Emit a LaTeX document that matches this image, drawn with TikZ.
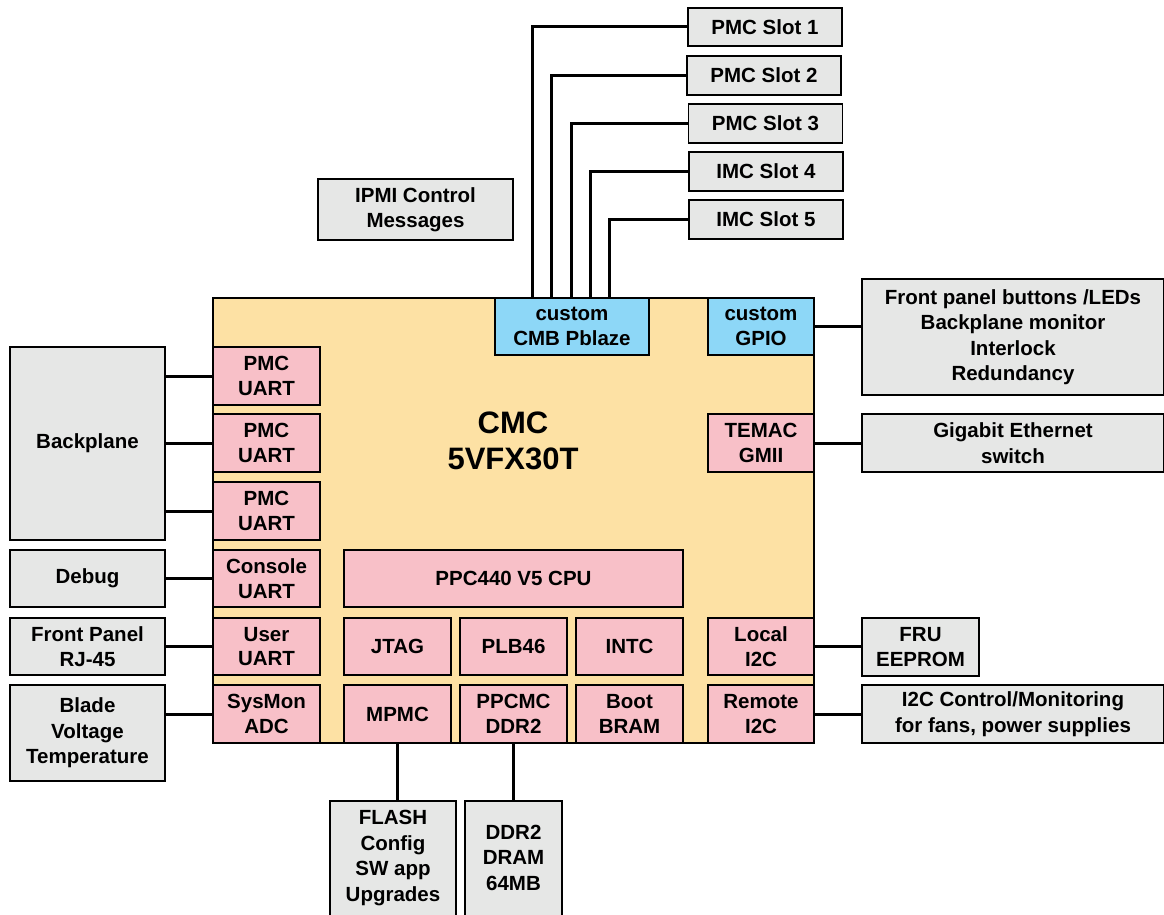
\documentclass[tikz,border=0pt]{standalone}
\usepackage{fontspec}
\setmainfont{Liberation Sans}
\definecolor{fpgafill}{HTML}{FDE1A4}
\definecolor{pinkfill}{HTML}{F8C0C8}
\definecolor{bluefill}{HTML}{8DD7F7}
\definecolor{grayfill}{HTML}{E6E7E6}
\tikzset{
  base/.style={draw=black, line width=1.6pt, align=center, inner sep=1pt,
    font=\fontsize{20.5}{24.5}\selectfont\bfseries},
  pinkbox/.style={base, fill=pinkfill},
  bluebox/.style={base, fill=bluefill},
  graybox/.style={base, fill=grayfill, font=\fontsize{20.5}{25.5}\selectfont\bfseries},
  plain/.style={align=center, inner sep=0pt, font=\fontsize{20.5}{25.5}\selectfont\bfseries},
  wire/.style={draw=black, line width=3pt},
  sz/.style 2 args={minimum width=#1, minimum height=#2},
}
\begin{document}
\begin{tikzpicture}[x=1pt,y=-1pt]
\useasboundingbox (0,0) rectangle (1164,915);
\fill[white] (0,0) rectangle (1164,915);

% main FPGA block
\node[draw=black, line width=1.4pt, fill=fpgafill, sz={601pt}{445pt}] (fpga) at (513.5,520.5) {};
\node[plain, font=\fontsize{31}{36}\selectfont\bfseries] (cmc) at (513,441) {CMC\\5VFX30T};

% top blocks
\node[bluebox, sz={154pt}{57pt}] (cmb) at (572,326.5) {custom\\CMB Pblaze};
\node[bluebox, sz={106pt}{57pt}] (gpio) at (761,326.5) {custom\\GPIO};

% slots
\node[graybox, sz={154pt}{38pt}] (s1) at (765,27) {PMC Slot 1};
\node[graybox, sz={154pt}{39pt}] (s2) at (764,75.5) {PMC Slot 2};
\node[graybox, sz={154pt}{39pt}] (s3) at (765.5,123.5) {PMC Slot 3};
\node[graybox, sz={154pt}{39pt}] (s4) at (766,171.5) {IMC Slot 4};
\node[graybox, sz={154pt}{39pt}] (s5) at (766,219.5) {IMC Slot 5};
\node[graybox, sz={195pt}{61pt}] (ipmi) at (415.5,209.5) {IPMI Control\\Messages};

% left pink blocks
\node[pinkbox, sz={107pt}{58pt}] (p1) at (266.5,376) {PMC\\UART};
\node[pinkbox, sz={107pt}{58pt}] (p2) at (266.5,443) {PMC\\UART};
\node[pinkbox, sz={107pt}{58pt}] (p3) at (266.5,511) {PMC\\UART};
\node[pinkbox, sz={107pt}{57pt}] (con) at (266.5,578.5) {Console\\UART};
\node[pinkbox, sz={107pt}{57pt}] (usr) at (266.5,646.5) {User\\UART};
\node[pinkbox, sz={107pt}{58pt}] (sysmon) at (266.5,714) {SysMon\\ADC};

% left gray boxes
\node[graybox, sz={155pt}{193pt}] (bp) at (87.5,443.5) {Backplane};
\node[graybox, sz={155pt}{57pt}] (dbg) at (87.5,578.5) {Debug};
\node[graybox, sz={155pt}{57pt}] (fp) at (87.5,646.5) {Front Panel\\RJ-45};
\node[graybox, sz={155pt}{96pt}] (blade) at (87.5,733) {Blade\\Voltage\\Temperature};

% centre blocks
\node[pinkbox, sz={339pt}{57pt}] (cpu) at (513.5,578.5) {PPC440 V5 CPU};
\node[pinkbox, sz={107pt}{57pt}] (jtag) at (397.5,646.5) {JTAG};
\node[pinkbox, sz={107pt}{57pt}] (plb) at (513.5,646.5) {PLB46};
\node[pinkbox, sz={107pt}{57pt}] (intc) at (629.5,646.5) {INTC};
\node[pinkbox, sz={107pt}{58pt}] (mpmc) at (397.5,714) {MPMC};
\node[pinkbox, sz={107pt}{58pt}] (ppcmc) at (513.5,714) {PPCMC\\DDR2};
\node[pinkbox, sz={107pt}{58pt}] (boot) at (629.5,714) {Boot\\BRAM};

% right pink blocks
\node[pinkbox, sz={106pt}{58pt}] (tem) at (761,443) {TEMAC\\GMII};
\node[pinkbox, sz={106pt}{57pt}] (loc) at (761,646.5) {Local\\I2C};
\node[pinkbox, sz={106pt}{58pt}] (rem) at (761,714) {Remote\\I2C};

% right gray boxes
\node[graybox, sz={302pt}{116pt}] (fpb) at (1013,337) {Front panel buttons /LEDs\\Backplane monitor\\Interlock\\Redundancy};
\node[graybox, sz={302pt}{58pt}] (gig) at (1013,443) {Gigabit Ethernet\\switch};
\node[graybox, sz={117pt}{58pt}] (fru) at (920.5,647) {FRU\\EEPROM};
\node[graybox, sz={302pt}{58pt}] (i2c) at (1013,714) {I2C Control/Monitoring\\for fans, power supplies};

% bottom gray boxes (cut off by the page edge)
\node[graybox, sz={126pt}{130pt}] (flash) at (393,866) {};
\node[plain] (flashtxt) at (393,858) {FLASH\\Config\\SW app\\Upgrades};
\node[graybox, sz={97pt}{130pt}] (dram) at (513.5,866) {};
\node[plain] (dramtxt) at (513.5,857.5) {DDR2\\DRAM\\64MB};

% slot wires
\draw[wire] ([xshift=-40pt]cmb.north) |- (s1.west);
\draw[wire] ([xshift=-21pt]cmb.north) |- (s2.west);
\draw[wire] ([xshift=-1pt]cmb.north) |- (s3.west);
\draw[wire] ([xshift=18pt]cmb.north) |- (s4.west);
\draw[wire] ([xshift=37pt]cmb.north) |- (s5.west);

% left wires
\draw[wire] (p1.west -| bp.east) -- (p1.west);
\draw[wire] (p2.west -| bp.east) -- (p2.west);
\draw[wire] (p3.west -| bp.east) -- (p3.west);
\draw[wire] (dbg.east) -- (con.west);
\draw[wire] (fp.east) -- (usr.west);
\draw[wire] (sysmon.west -| blade.east) -- (sysmon.west);

% right wires
\draw[wire] (gpio.east) -- (gpio.east -| fpb.west);
\draw[wire] (tem.east) -- (gig.west);
\draw[wire] (loc.east) -- (loc.east -| fru.west);
\draw[wire] (rem.east) -- (i2c.west);

% bottom wires
\draw[wire] (mpmc.south) -- (mpmc.south |- flash.north);
\draw[wire] (ppcmc.south) -- (ppcmc.south |- dram.north);
\end{tikzpicture}
\end{document}
